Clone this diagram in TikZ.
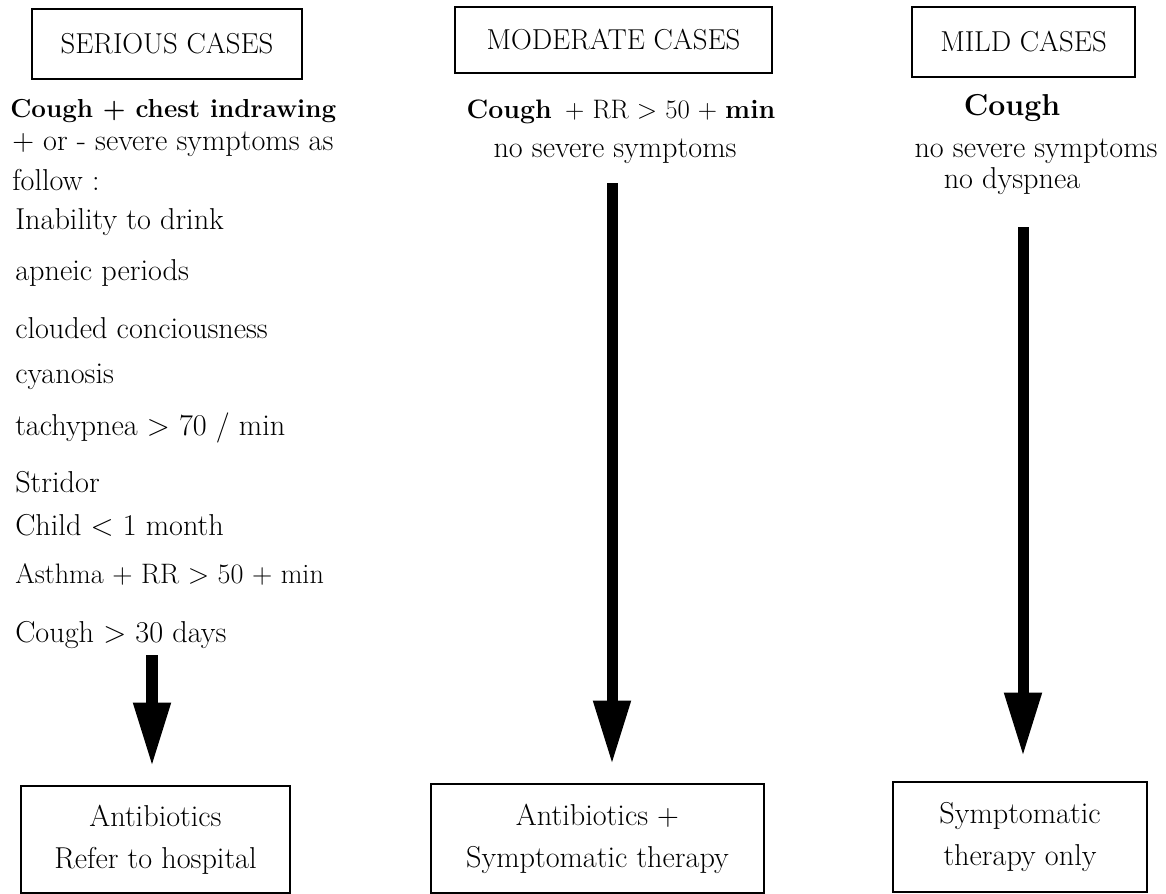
\documentclass[tikz,border=0pt]{standalone}
\usetikzlibrary{arrows.meta}

\begin{document}
\begin{tikzpicture}[
        x=0.025cm, y=-0.025cm,
        every node/.style={font=\fontsize{21.5}{30}\selectfont},
        casebox/.style={rectangle, draw, line width=2pt, inner sep=0pt,
                        align=center},
        header/.style={casebox, font=\fontsize{20.5}{30}\selectfont},
        item/.style={anchor=base west, inner sep=0pt},
        label/.style={anchor=base, inner sep=0pt},
        arrow/.style={-{Triangle[length=1.6cm, width=0.875cm]},
                      line width=0.275cm}
    ]
    \useasboundingbox (0,0) rectangle (1166,894);

    % headers
    \node[header, minimum width=6.75cm, minimum height=1.75cm] (serious) at (167,44) {SERIOUS CASES};
    \node[header, minimum width=7.925cm, minimum height=1.65cm] (moderate) at (613.5,40) {MODERATE CASES};
    \node[header, minimum width=5.575cm, minimum height=1.75cm] (mild) at (1023.5,42) {MILD CASES};

    % serious cases
    \node[item, font=\fontsize{18.5}{30}\selectfont] (s0) at (10,117) {\textbf{Cough + chest indrawing}};
    \node[item] (s1) at (12,150) {+ or - severe symptoms as};
    \node[item] (s2) at (12,190) {follow :};
    \node[item] (s3) at (15,229) {Inability to drink};
    \node[item] (s4) at (15,280) {apneic periods};
    \node[item] (s5) at (15,338) {clouded conciousness};
    \node[item] (s6) at (15,383) {cyanosis};
    \node[item] (s7) at (15,435) {tachypnea > 70 / min};
    \node[item] (s8) at (15,492) {Stridor};
    \node[item] (s9) at (15,535) {Child < 1 month};
    \node[item, font=\fontsize{20}{30}\selectfont] (s10) at (15,583) {Asthma + RR > 50 + min};
    \node[item] (s11) at (15,642) {Cough > 30 days};

    % moderate cases
    \node[label, font=\fontsize{19}{30}\selectfont] (m0) at (621,118) {\textbf{Cough}\enspace+ RR > 50 + \textbf{min}};
    \node[label] (m1) at (615,157) {no severe symptoms};

    % mild cases
    \node[label] (l0) at (1012,115) {\textbf{Cough}};
    \node[label] (l1) at (1036,157) {no severe symptoms};
    \node[label] (l2) at (1012,188) {no dyspnea};

    % treatment
    \node[casebox, minimum width=6.725cm, minimum height=2.675cm] (sres) at (155.5,839.5) {Antibiotics\\Refer to hospital};
    \node[casebox, minimum width=8.325cm, minimum height=2.725cm] (mres) at (597.5,838.5) {Antibiotics +\\Symptomatic therapy};
    \node[casebox, minimum width=6.35cm, minimum height=2.75cm] (lres) at (1020,837) {Symptomatic\\therapy only};

    \coordinate (sstart) at (152,655);
    \coordinate (mstart) at (612,183);
    \coordinate (lstart) at (1023,227);

    \draw[arrow, shorten >=0.45cm] (sstart) -- (sstart |- sres.north);
    \draw[arrow, shorten >=0.45cm] (mstart) -- (mstart |- mres.north);
    \draw[arrow, shorten >=0.6cm] (lstart) -- (lstart |- lres.north);
\end{tikzpicture}
\end{document}
